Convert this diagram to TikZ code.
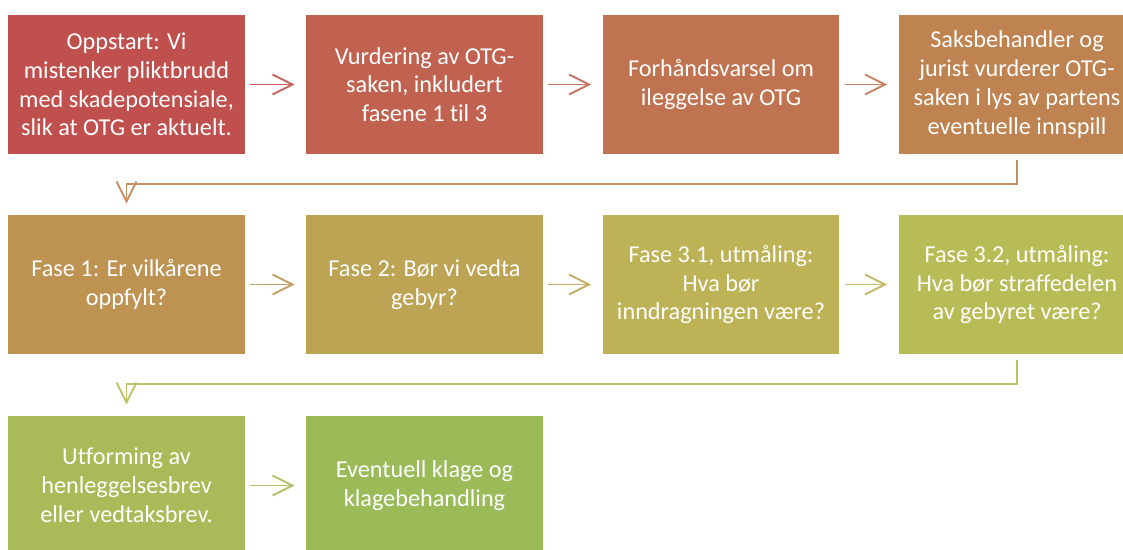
\documentclass[tikz,border=0pt]{standalone}
\usepackage{fontspec}
\setmainfont{Carlito}[Ligatures=NoCommon]
\usetikzlibrary{arrows.meta}
\definecolor{stage0}{RGB}{192,80,77}
\definecolor{stage1}{RGB}{192,98,79}
\definecolor{stage2}{RGB}{191,115,80}
\definecolor{stage3}{RGB}{190,131,81}
\definecolor{stage4}{RGB}{190,147,82}
\definecolor{stage5}{RGB}{189,163,84}
\definecolor{stage6}{RGB}{189,178,85}
\definecolor{stage7}{RGB}{184,188,86}
\definecolor{stage8}{RGB}{169,187,88}
\definecolor{stage9}{RGB}{155,187,89}
\tikzset{
  stagebox/.style={fill=#1, text=white, minimum width=4.74cm, minimum height=2.78cm,
    inner sep=0pt, align=center, font=\fontsize{13.8}{16.4}\selectfont},
  flow/.style={draw=#1!90, line width=1.1pt,
    -{Straight Barb[length=0.4cm,width=0.4cm]}}
}

\begin{document}
\begin{tikzpicture}[x=0.02cm,y=-0.02cm]
\useasboundingbox (0,0) rectangle (1123,549);
\clip (0,0) rectangle (1123,549);

\node[stagebox=stage0] (s1) at (126.5,84.5) {Oppstart: Vi\\mistenker pliktbrudd\\med skadepotensiale,\\slik at OTG er aktuelt.};
\node[stagebox=stage1] (s2) at (424.5,84.5) {Vurdering av OTG-\\saken, inkludert\\fasene 1 til 3};
\node[stagebox=stage2] (s3) at (721,84.5) {Forhåndsvarsel om\\ileggelse av OTG};
\node[stagebox=stage3] (s4) at (1017,84.5) {Saksbehandler og\\jurist vurderer OTG-\\saken i lys av partens\\eventuelle innspill};

\node[stagebox=stage4] (s5) at (126.5,284.5) {Fase 1: Er vilkårene\\oppfylt?};
\node[stagebox=stage5] (s6) at (424.5,284.5) {Fase 2: Bør vi vedta\\gebyr?};
\node[stagebox=stage6] (s7) at (721,284.5) {Fase 3.1, utmåling:\\Hva bør\\inndragningen være?};
\node[stagebox=stage7] (s8) at (1017,284.5) {Fase 3.2, utmåling:\\Hva bør straffedelen\\av gebyret være?};

\node[stagebox=stage8] (s9) at (126.5,485.5) {Utforming av\\henleggelsesbrev\\eller vedtaksbrev.};
\node[stagebox=stage9] (s10) at (424.5,485.5) {Eventuell klage og\\klagebehandling};

\draw[flow=stage0] ([xshift=0.1cm]s1.east) -- ([xshift=-0.22cm]s2.west);
\draw[flow=stage1] ([xshift=0.1cm]s2.east) -- ([xshift=-0.22cm]s3.west);
\draw[flow=stage2] ([xshift=0.1cm]s3.east) -- ([xshift=-0.22cm]s4.west);
\draw[flow=stage3] ([yshift=-0.12cm]s4.south) -- ++(0,24) -| ([yshift=0.22cm]s5.north);

\draw[flow=stage4] ([xshift=0.1cm]s5.east) -- ([xshift=-0.22cm]s6.west);
\draw[flow=stage5] ([xshift=0.1cm]s6.east) -- ([xshift=-0.22cm]s7.west);
\draw[flow=stage6] ([xshift=0.1cm]s7.east) -- ([xshift=-0.22cm]s8.west);
\draw[flow=stage7] ([yshift=-0.12cm]s8.south) -- ++(0,24) -| ([yshift=0.22cm]s9.north);

\draw[flow=stage8] ([xshift=0.1cm]s9.east) -- ([xshift=-0.22cm]s10.west);
\end{tikzpicture}
\end{document}
